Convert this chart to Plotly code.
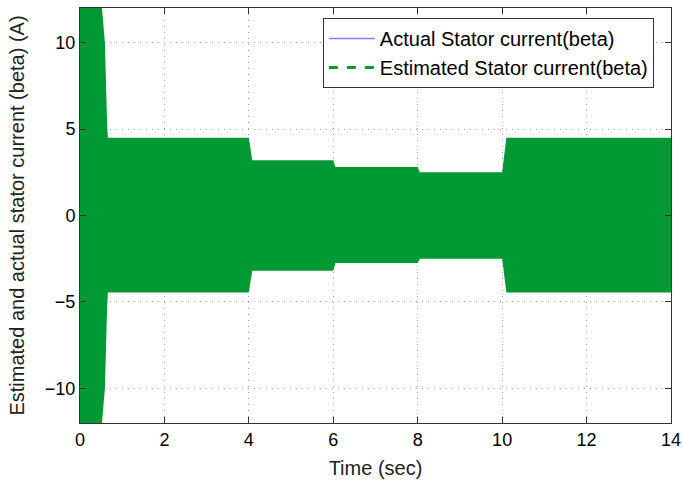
import plotly.graph_objects as go

# Envelope of the (dense) beta stator current
env_time = [0.0, 0.50, 0.52, 0.59, 0.64, 0.66, 4.00, 4.08, 6.00, 6.05, 8.00, 8.05, 10.00, 10.10, 14.0]
env_upper = [14.0, 14.0, 12.0, 10.0, 5.5, 4.5, 4.5, 3.2, 3.2, 2.8, 2.8, 2.5, 2.5, 4.5, 4.5]
env_lower = [-14.0, -14.0, -12.0, -10.0, -5.5, -4.45, -4.45, -3.2, -3.2, -2.75, -2.75, -2.5, -2.5, -4.45, -4.45]

x_ticks = [0, 2, 4, 6, 8, 10, 12, 14]
y_ticks = [-10, -5, 0, 5, 10]

GREEN = "#009933"

fig = go.Figure()

def envelope_trace(color, name):
    xs = env_time + env_time[::-1]
    ys = env_upper + env_lower[::-1]
    return go.Scatter(x=xs, y=ys, fill="toself", fillcolor=color, mode="lines",
                      line=dict(color=color, width=0), showlegend=False, name=name,
                      hoverinfo="skip")

fig.add_trace(envelope_trace(GREEN, "Estimated Stator current(beta)"))

# legend entries
fig.add_trace(go.Scatter(x=[None], y=[None], mode="lines",
                         line=dict(color="#8080ff", width=1.5),
                         name="Actual Stator current(beta)"))
fig.add_trace(go.Scatter(x=[None], y=[None], mode="lines",
                         line=dict(color=GREEN, width=3, dash="dash"),
                         name="Estimated Stator current(beta)"))

axis_common = dict(showline=True, linecolor="#333333", linewidth=1, mirror="ticks",
                   ticks="inside", ticklen=6, tickcolor="#333333",
                   showgrid=True, gridcolor="#a0a0a0", griddash="1px,5px", gridwidth=1,
                   zeroline=False, tickfont=dict(size=18, color="black"),
                   title_font=dict(size=20, color="#222222"), automargin=False)

fig.update_xaxes(range=[0, 14], tickvals=x_ticks, title_text="Time (sec)",
                 title_standoff=12, **axis_common)
fig.update_yaxes(range=[-12, 12], tickvals=y_ticks,
                 title_text="Estimated and actual stator current (beta) (A)",
                 title_standoff=14, **axis_common)

fig.update_layout(
    width=683, height=484,
    margin=dict(l=80, r=12, t=8, b=61),
    plot_bgcolor="white", paper_bgcolor="white",
    font=dict(family="Liberation Sans, Arial, sans-serif", color="black"),
    legend=dict(x=0.971, xanchor="right", y=0.976, yanchor="top",
                bgcolor="white", bordercolor="#333333", borderwidth=1,
                font=dict(size=20), tracegroupgap=0, itemwidth=46),
)

fig.write_html("out.html")
